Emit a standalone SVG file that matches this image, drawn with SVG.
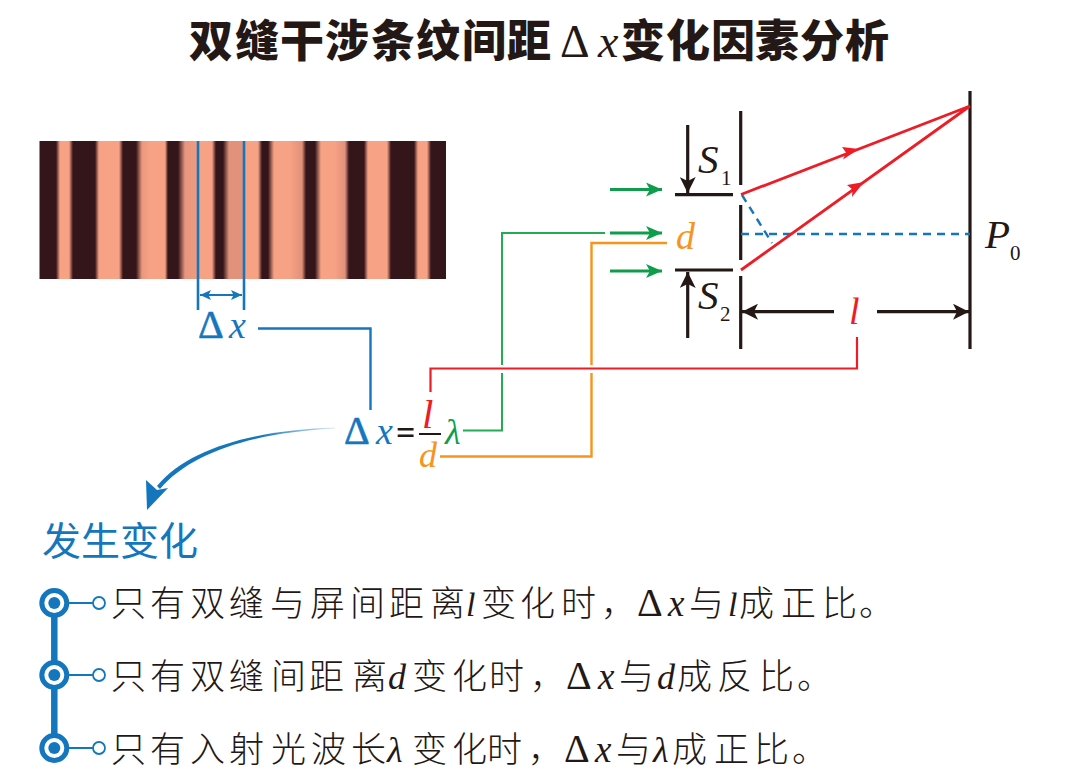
<svg xmlns="http://www.w3.org/2000/svg" width="1080" height="779" viewBox="0 0 1080 779">
<style>
text{font-family:"Noto Sans CJK SC","Liberation Serif",sans-serif;fill:#231815}
.m{font-family:"Liberation Serif","Noto Sans CJK SC",serif;font-style:italic}
.u{font-family:"Liberation Serif","Noto Sans CJK SC",serif;font-style:normal}
.title{font-size:44px;font-weight:900}
.body{font-size:35px;font-weight:300}
.blue{fill:#1477bd}.red{fill:#ee1c25}.orange{fill:#f7941d}.green{fill:#0f9d4c}
.k{fill:none;stroke:#231815;stroke-width:3.2}
.g{fill:none;stroke:#0f9d4c;stroke-width:3}
.r{fill:none;stroke:#ee1c25;stroke-width:2.8}
.cr{fill:none;stroke:#ee1c25;stroke-width:2.2}
.cg{fill:none;stroke:#22ac55;stroke-width:2}
.co{fill:none;stroke:#f7941d;stroke-width:2.4}
.cb{fill:none;stroke:#1477bd;stroke-width:2.4}
.bull{fill:#fff;stroke:#1477bd;stroke-width:5}
.dot{fill:#1477bd}
.tick{fill:none;stroke:#1477bd;stroke-width:2}
.d{stroke:#1477bd;stroke-width:.6}
</style>
<defs>
<linearGradient id="fr" gradientUnits="userSpaceOnUse" x1="0" y1="0" x2="1000" y2="0">
<stop offset=".039" stop-color="#34151a"/><stop offset=".056" stop-color="#34151a"/><stop offset=".060" stop-color="#f7a185"/><stop offset=".069" stop-color="#f7a185"/><stop offset=".073" stop-color="#34151a"/><stop offset=".095" stop-color="#34151a"/><stop offset=".099" stop-color="#f7a185"/><stop offset=".119" stop-color="#f7a185"/><stop offset=".123" stop-color="#34151a"/><stop offset=".136" stop-color="#34151a"/><stop offset=".142" stop-color="#ea987e"/><stop offset=".150" stop-color="#f7a185"/><stop offset=".165" stop-color="#f7a185"/><stop offset=".168" stop-color="#34151a"/><stop offset=".178" stop-color="#34151a"/><stop offset=".185" stop-color="#e8967e"/><stop offset=".196" stop-color="#ec9a80"/><stop offset=".198" stop-color="#f7a185"/><stop offset=".212" stop-color="#f7a185"/><stop offset=".216" stop-color="#34151a"/><stop offset=".223" stop-color="#34151a"/><stop offset=".229" stop-color="#e2917a"/><stop offset=".243" stop-color="#e2917a"/><stop offset=".245" stop-color="#f7a185"/><stop offset=".258" stop-color="#f7a185"/><stop offset=".262" stop-color="#34151a"/><stop offset=".268" stop-color="#34151a"/><stop offset=".274" stop-color="#f7a185"/><stop offset=".290" stop-color="#f7a185"/><stop offset=".302" stop-color="#e2917a"/><stop offset=".306" stop-color="#34151a"/><stop offset=".315" stop-color="#34151a"/><stop offset=".321" stop-color="#f7a185"/><stop offset=".335" stop-color="#f7a185"/><stop offset=".345" stop-color="#e2917a"/><stop offset=".349" stop-color="#34151a"/><stop offset=".364" stop-color="#34151a"/><stop offset=".368" stop-color="#f7a185"/><stop offset=".387" stop-color="#f7a185"/><stop offset=".391" stop-color="#34151a"/><stop offset=".414" stop-color="#34151a"/><stop offset=".418" stop-color="#f7a185"/><stop offset=".427" stop-color="#f7a185"/><stop offset=".431" stop-color="#34151a"/><stop offset=".446" stop-color="#34151a"/>
</linearGradient>
<linearGradient id="fade" gradientUnits="userSpaceOnUse" x1="335" y1="0" x2="260" y2="0"><stop offset="0" stop-color="#1477bd" stop-opacity=".15"/><stop offset="1" stop-color="#1477bd"/></linearGradient>
<marker id="ak" markerUnits="userSpaceOnUse" markerWidth="18" markerHeight="16" refX="16" refY="8" orient="auto-start-reverse"><path d="M0,0L16,8L0,16L4,8Z" fill="#231815"/></marker>
<marker id="ag" markerUnits="userSpaceOnUse" markerWidth="18" markerHeight="16" refX="16" refY="8" orient="auto"><path d="M0,1L16,8L0,15L4,8Z" fill="#0f9d4c"/></marker>
<marker id="ab" markerUnits="userSpaceOnUse" markerWidth="12" markerHeight="12" refX="11" refY="6" orient="auto-start-reverse"><path d="M0,1L11,6L0,11L2.500,6Z" fill="#1477bd"/></marker>
</defs>

<g id="title">
<text class="title" y="57" x="189 235 280 325 371 416 462 507">双缝干涉条纹间距</text>
<text class="u" y="57" x="560" font-size="46" font-weight="400">Δ</text>
<text class="m" y="57" x="598" font-size="46">x</text>
<text class="title" y="57" x="621 666 711 755 800 845">变化因素分析</text>
</g>

<g id="fringes">
<rect x="39.500" y="141" width="406.500" height="138" fill="url(#fr)"/>
</g>

<g id="delta-x-top">
<path class="tick" stroke-width="2.600" style="stroke-width:2.600px" d="M198,141V310M244,141V310"/>
<path d="M200,295H242" fill="none" stroke="#1477bd" stroke-width="2.200" marker-start="url(#ab)" marker-end="url(#ab)"/>
<text class="u blue d" x="198" y="338" font-size="40">Δ</text>
<text class="m blue" x="229" y="338" font-size="38">x</text>
</g>

<g id="slit-diagram">
<path class="k" d="M740.700,111V185M740.700,205V260M740.700,276V349M970,91V349M675,194.700H733M675,270H733"/>
<path d="M741,234H970M742,195L772,243" fill="none" stroke="#1477bd" stroke-width="2.400" stroke-dasharray="8 6"/>
<path class="k" d="M687.700,125V193" marker-end="url(#ak)"/>
<path class="k" d="M687.700,338V272" marker-end="url(#ak)"/>
<path class="k" d="M834,311.700H742" marker-end="url(#ak)"/>
<path class="k" d="M877,311.700H969" marker-end="url(#ak)"/>
<path class="g" d="M610,189.500H662" marker-end="url(#ag)"/>
<path class="g" d="M610,233H662" marker-end="url(#ag)"/>
<path class="g" d="M610,271H662" marker-end="url(#ag)"/>
<path class="r" d="M741,194.500L970,106M741,270L970,106"/>
<path class="red" d="M859,149L843,159.500L846,152.500L842,147Z"/>
<path class="red" d="M864,182L852,197L852.500,189.500L847,185Z"/>
<text class="m" x="698" y="173" font-size="41">S</text>
<text class="u" x="721" y="185" font-size="21">1</text>
<text class="m" x="698" y="309" font-size="41">S</text>
<text class="u" x="720" y="321" font-size="21">2</text>
<text class="m" x="985" y="248" font-size="41">P</text>
<text class="u" x="1010" y="260" font-size="21">0</text>
<text class="m orange" x="676" y="249" font-size="38">d</text>
<text class="m red" x="849" y="324" font-size="38">l</text>
</g>

<g id="connectors">
<path class="cb" d="M258,328.500H370.500V410"/>
<path class="cr" d="M857,337V368.500H430.500V392"/>
<path class="cg" d="M463,430.500H502V373M502,365V233H605"/>
<path class="co" d="M440,456.500H591.500V373M591.500,365V243H667"/>
</g>

<g id="formula">
<text class="u blue d" x="344" y="444" font-size="40">Δ</text>
<text class="m blue" x="376" y="444" font-size="38">x</text>
<text class="u" x="396" y="444" font-size="34" font-weight="700">=</text>
<path d="M419,434H441" stroke="#231815" stroke-width="2" fill="none"/>
<text class="m red" x="422" y="428" font-size="41">l</text>
<text class="m orange" x="419" y="467" font-size="36">d</text>
<text class="m green" x="445" y="444" font-size="36">λ</text>
</g>

<g id="change-arrow">
<path d="M335,427.500C260,430 190,446 157,486L160,489C193,450 260,432 335,428.500Z" fill="url(#fade)"/>
<path d="M147,510L146,480L157,490L168,488Z" fill="#1477bd"/>
</g>

<g id="heading">
<text class="blue" x="42" y="555" font-size="39" font-weight="400">发生变化</text>
</g>

<g id="list">
<path d="M54.300,603V748" stroke="#1477bd" stroke-width="6.500" fill="none"/>
<g id="item-1">
<circle class="bull" cx="54.300" cy="603" r="12.500"/><circle class="dot" cx="54.300" cy="603" r="6"/>
<path class="tick" d="M67,603H93"/><circle cx="99" cy="603" r="6" fill="#fff" stroke="#1477bd" stroke-width="1.800"/>
<text class="body" y="616" x="111 150 190 229 270 310 350 389 430">只有双缝与屏间距离</text>
<text class="m" y="616" x="466" font-size="34">l</text>
<text class="body" y="616" x="481 520 561">变化时</text>
<text class="body" y="616" x="601">，</text>
<text class="u" y="616" x="637" font-size="40">Δ</text>
<text class="m" y="616" x="668" font-size="37">x</text>
<text class="body" y="616" x="689">与</text>
<text class="m" y="616" x="728" font-size="34">l</text>
<text class="body" y="616" x="739 781 822">成正比</text>
<text class="body" y="616" x="859">。</text>
</g>
<g id="item-2">
<circle class="bull" cx="54.300" cy="675" r="12.500"/><circle class="dot" cx="54.300" cy="675" r="6"/>
<path class="tick" d="M67,675H93"/><circle cx="99" cy="675" r="6" fill="#fff" stroke="#1477bd" stroke-width="1.800"/>
<text class="body" y="689" x="111 150 190 229 271 309 352">只有双缝间距离</text>
<text class="m" y="689" x="388" font-size="36">d</text>
<text class="body" y="689" x="412 452 489">变化时</text>
<text class="body" y="689" x="530">，</text>
<text class="u" y="689" x="566" font-size="40">Δ</text>
<text class="m" y="689" x="598" font-size="37">x</text>
<text class="body" y="689" x="619">与</text>
<text class="m" y="689" x="657" font-size="36">d</text>
<text class="body" y="689" x="677 717 759">成反比</text>
<text class="body" y="689" x="797">。</text>
</g>
<g id="item-3">
<circle class="bull" cx="54.300" cy="748" r="12.500"/><circle class="dot" cx="54.300" cy="748" r="6"/>
<path class="tick" d="M67,748H93"/><circle cx="99" cy="748" r="6" fill="#fff" stroke="#1477bd" stroke-width="1.800"/>
<text class="body" y="762" x="111 150 190 229 271 311 351">只有入射光波长</text>
<text class="m" y="762" x="387" font-size="36">λ</text>
<text class="body" y="762" x="412 452 487">变化时</text>
<text class="body" y="762" x="528">，</text>
<text class="u" y="762" x="564" font-size="40">Δ</text>
<text class="m" y="762" x="595" font-size="37">x</text>
<text class="body" y="762" x="616">与</text>
<text class="m" y="762" x="653" font-size="36">λ</text>
<text class="body" y="762" x="672 714 754">成正比</text>
<text class="body" y="762" x="792">。</text>
</g>
</g>
</svg>
